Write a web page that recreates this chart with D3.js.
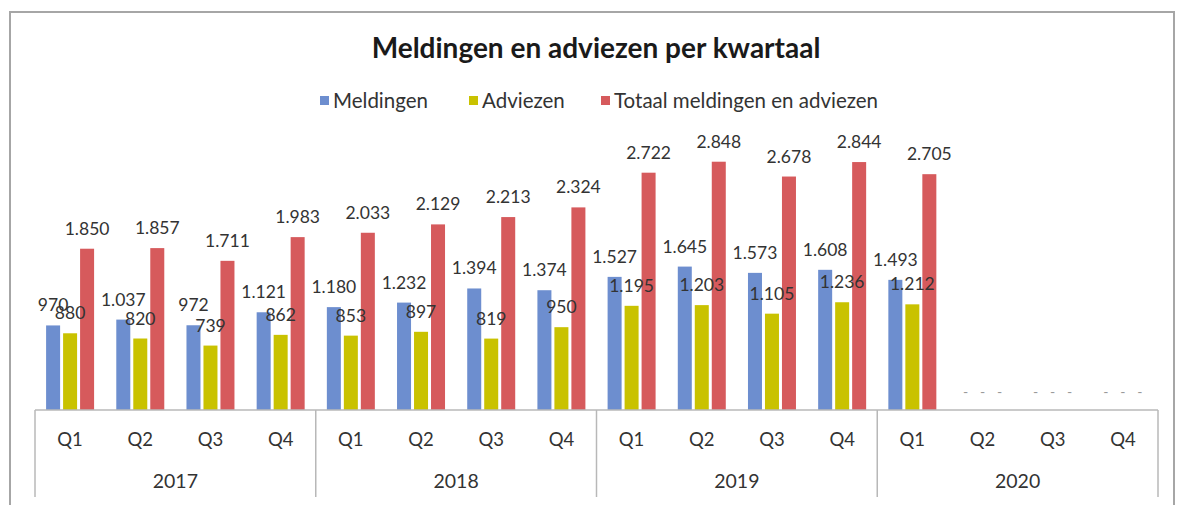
<!DOCTYPE html>
<html>
<head>
<meta charset="utf-8">
<script src="https://cdn.jsdelivr.net/npm/d3@7"></script>
<style>
  html, body { margin: 0; padding: 0; background: #fff; }
  svg { display: block; font-family: Lato, "Open Sans", sans-serif; }
</style>
</head>
<body>
<svg id="chart" width="1178" height="505"></svg>
<script>
const title = "Meldingen en adviezen per kwartaal";
const years = ["2017", "2018", "2019", "2020"];
const quarters = ["Q1", "Q2", "Q3", "Q4"];
const seriesNames = ["Meldingen", "Adviezen", "Totaal meldingen en adviezen"];
const seriesColors = ["#6d8ecf", "#c9c200", "#d65a5c"];
const meldingen = [970, 1037, 972, 1121, 1180, 1232, 1394, 1374, 1527, 1645, 1573, 1608, 1493, 0, 0, 0];
const adviezen  = [880, 820, 739, 862, 853, 897, 819, 950, 1195, 1203, 1105, 1236, 1212, 0, 0, 0];
const totaal    = [1850, 1857, 1711, 1983, 2033, 2129, 2213, 2324, 2722, 2848, 2678, 2844, 2705, 0, 0, 0];

const seriesValues = [meldingen, adviezen, totaal];
const categories = [];
years.forEach(y => quarters.forEach(q => categories.push(y + "-" + q)));

const svg = d3.select("#chart");

// chart frame
svg.append("rect")
  .attr("x", 10).attr("y", 12).attr("width", 1164).attr("height", 510)
  .attr("fill", "#fff").attr("stroke", "#a6a6a6").attr("stroke-width", 2);

// title
svg.append("text")
  .attr("x", 596).attr("y", 58)
  .attr("text-anchor", "middle")
  .attr("font-size", 28).attr("font-weight", "bold").attr("fill", "#1a1a1a")
  .text(title);

// legend
const legendX = [320, 469, 601];
const legend = svg.append("g");
seriesNames.forEach((name, i) => {
  const g = legend.append("g").attr("transform", `translate(${legendX[i]},0)`);
  g.append("rect").attr("x", 0).attr("y", 96).attr("width", 9).attr("height", 9).attr("fill", seriesColors[i]);
  g.append("text").attr("x", 13).attr("y", 108).attr("font-size", 20.5).attr("fill", "#333").text(name);
});

const baseline = 410;
const x0 = d3.scaleBand().domain(categories).range([35, 1158]).padding(0);
const x1 = d3.scaleBand().domain(d3.range(3)).range([0, x0.bandwidth()]).paddingInner(0.176).paddingOuter(0.653);
const y = d3.scaleLinear().domain([0, 3000]).range([baseline, baseline - 3000 * 0.08718]);

const nl = d3.formatLocale({decimal: ",", thousands: ".", grouping: [3], currency: ["€", ""]});
const fmt = nl.format(",d");

// bars
const barsG = svg.append("g");
seriesValues.forEach((vals, si) => {
  barsG.selectAll(null).data(vals).enter().append("rect")
    .attr("x", (d, i) => x0(categories[i]) + x1(si))
    .attr("y", d => y(d))
    .attr("width", x1.bandwidth())
    .attr("height", d => baseline - y(d))
    .attr("fill", seriesColors[si]);
});

// labels
const labelsG = svg.append("g");
seriesValues.forEach((vals, si) => {
  labelsG.selectAll(null).data(vals).enter().append("text")
    .attr("x", (d, i) => x0(categories[i]) + x1(si) + x1.bandwidth() / 2)
    .attr("y", d => d === 0 ? y(d) - 13 : y(d) - 14)
    .attr("text-anchor", "middle")
    .attr("font-size", d => d === 0 ? 14 : 17.5)
    .attr("fill", d => d === 0 ? "#999" : "#333")
    .text(d => d === 0 ? "-" : fmt(d));
});

// axis
const axisColor = "#b8b8b8";
const axisG = svg.append("g");
axisG.append("line")
  .attr("x1", x0.range()[0]).attr("x2", x0.range()[1])
  .attr("y1", baseline).attr("y2", baseline)
  .attr("stroke", axisColor).attr("stroke-width", 1.5);

const groupW = x0.bandwidth() * quarters.length;
years.forEach((yr) => {
  const gx = x0(yr + "-Q1");
  axisG.append("line")
    .attr("x1", gx).attr("x2", gx).attr("y1", baseline).attr("y2", 497)
    .attr("stroke", axisColor).attr("stroke-width", 1.5);
  axisG.append("text")
    .attr("x", gx + groupW / 2).attr("y", 488)
    .attr("text-anchor", "middle").attr("font-size", 19.5).attr("fill", "#333")
    .text(yr);
});
axisG.append("line")
  .attr("x1", x0.range()[1]).attr("x2", x0.range()[1]).attr("y1", baseline).attr("y2", 497)
  .attr("stroke", axisColor).attr("stroke-width", 1.5);

categories.forEach(c => {
  axisG.append("text")
    .attr("x", x0(c) + x0.bandwidth() / 2).attr("y", 446)
    .attr("text-anchor", "middle").attr("font-size", 18.5).attr("fill", "#333")
    .text(c.split("-")[1]);
});
</script>
</body>
</html>
